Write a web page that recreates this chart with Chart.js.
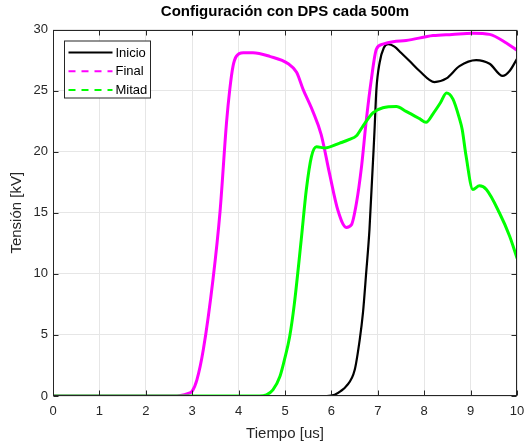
<!DOCTYPE html>
<html>
<head>
<meta charset="utf-8">
<script src="https://cdn.jsdelivr.net/npm/chart.js@4"></script>
<style>
html,body{margin:0;padding:0;background:#fff;}
#wrap{width:527px;height:445px;}
</style>
</head>
<body>
<div id="wrap"><canvas id="c" width="527" height="445"></canvas></div>
<script>
// ---- data ----
const seriesNames = ["Inicio", "Final", "Mitad"];
const xTicks = [0,1,2,3,4,5,6,7,8,9,10];
const yTicks = [0,5,10,15,20,25,30];

const inicioX = [0, 5.9, 6.07, 6.2, 6.32, 6.5, 6.61, 6.68, 6.75, 6.82, 6.93, 6.97, 7.04, 7.13, 7.22, 7.36, 7.5, 7.69, 7.9, 8.22, 8.48, 8.76, 9.12, 9.41, 9.69, 9.84, 10];
const inicioY = [0, 0, 0.1, 0.4, 0.8, 2.1, 4.6, 6.8, 10.1, 13.6, 21.8, 25.1, 27.3, 28.5, 28.8, 28.6, 28.1, 27.4, 26.6, 25.7, 26.0, 27.0, 27.5, 27.2, 26.2, 26.6, 27.6];

const finalX = [0, 2.6, 2.75, 2.9, 3.0, 3.1, 3.24, 3.45, 3.6, 3.74, 3.81, 3.88, 3.95, 4.1, 4.31, 4.67, 5.07, 5.25, 5.39, 5.6, 5.78, 5.96, 6.14, 6.32, 6.43, 6.54, 6.65, 6.75, 6.86, 6.97, 7.11, 7.33, 7.61, 8.19, 8.6, 9.05, 9.41, 9.77, 10];
const finalY = [0, 0, 0.05, 0.2, 0.4, 1.3, 3.8, 9.6, 15.1, 22.4, 25.1, 27.0, 27.8, 28.1, 28.1, 27.8, 27.2, 26.5, 25.1, 23.3, 21.4, 18.2, 15.2, 13.8, 14.0, 15.8, 18.8, 22.5, 25.9, 28.4, 28.8, 29.0, 29.1, 29.5, 29.6, 29.7, 29.6, 28.9, 28.3];

const mitadX = [0, 4.45, 4.6, 4.74, 4.89, 4.99, 5.1, 5.2, 5.35, 5.46, 5.57, 5.68, 5.86, 6.18, 6.39, 6.54, 6.68, 6.9, 7.11, 7.4, 7.61, 7.9, 8.04, 8.19, 8.35, 8.48, 8.62, 8.76, 8.82, 8.9, 9.05, 9.19, 9.34, 9.62, 9.84, 10];
const mitadY = [0, 0, 0.1, 0.5, 1.6, 3.0, 4.85, 7.5, 12.8, 16.9, 19.6, 20.4, 20.3, 20.7, 21.0, 21.3, 22.1, 23.2, 23.6, 23.7, 23.3, 22.7, 22.4, 23.1, 24.0, 24.8, 24.3, 22.7, 21.8, 19.7, 16.9, 17.2, 16.9, 15.0, 13.1, 11.3];

function pts(xs, ys){ return xs.map((x,i)=>({x:x, y:ys[i]})); }

const FONT = "'Liberation Sans', Arial, Helvetica, sans-serif";
const AXC = '#262626';

const legendStyles = [
  {color:'#000000', dash:[]},
  {color:'#ff00ff', dash:[7,6]},
  {color:'#00ff00', dash:[7,6]}
];

const framePlugin = {
  id: 'frame',
  afterDatasetsDraw(chart){
    const ctx = chart.ctx, a = chart.chartArea;
    const xs = chart.scales.x, ys = chart.scales.y;
    ctx.save();
    ctx.strokeStyle = AXC;
    ctx.lineWidth = 1;
    ctx.setLineDash([]);
    const L = Math.round(a.left)+0.5, R = Math.round(a.right)-0.5, T = Math.round(a.top)+0.5, B = Math.round(a.bottom)-0.5;
    ctx.strokeRect(L, T, R-L, B-T);
    const tl = 5;
    ctx.beginPath();
    xTicks.forEach(v=>{
      const px = Math.round(xs.getPixelForValue(v))+0.5;
      ctx.moveTo(px, B); ctx.lineTo(px, B-tl);
      ctx.moveTo(px, T); ctx.lineTo(px, T+tl);
    });
    yTicks.forEach(v=>{
      const py = Math.round(ys.getPixelForValue(v))+0.5;
      ctx.moveTo(L, py); ctx.lineTo(L+tl, py);
      ctx.moveTo(R, py); ctx.lineTo(R-tl, py);
    });
    ctx.stroke();

    // legend box
    const bx = a.left + 11.5, by = a.top + 11.5, bw = 86, bh = 57;
    ctx.fillStyle = '#ffffff';
    ctx.fillRect(bx, by, bw, bh);
    ctx.strokeStyle = AXC;
    ctx.strokeRect(bx, by, bw, bh);
    ctx.font = "13px " + FONT;
    ctx.textBaseline = 'middle';
    ctx.textAlign = 'left';
    chart.data.datasets.forEach((ds, i)=>{
      const yy = by + 11.5 + i*18.7;
      const st = legendStyles[i];
      ctx.beginPath();
      ctx.strokeStyle = st.color;
      ctx.lineWidth = 2;
      ctx.setLineDash(st.dash);
      ctx.moveTo(bx + 4, yy);
      ctx.lineTo(bx + 48, yy);
      ctx.stroke();
      ctx.setLineDash([]);
      ctx.fillStyle = '#000000';
      ctx.fillText(ds.label, bx + 51, yy + 0.5);
    });
    ctx.restore();
  }
};

new Chart(document.getElementById('c'), {
  type: 'line',
  data: {
    datasets: [
      {label: seriesNames[0], data: pts(inicioX, inicioY), borderColor:'#000000', borderWidth:2.2, order:2},
      {label: seriesNames[1], data: pts(finalX, finalY), borderColor:'#ff00ff', borderWidth:3, order:1},
      {label: seriesNames[2], data: pts(mitadX, mitadY), borderColor:'#00ff00', borderWidth:3, order:0}
    ]
  },
  options: {
    responsive: false,
    animation: false,
    devicePixelRatio: 1,
    layout: {padding: {left:0, right:10, top:0, bottom:0}},
    elements: {
      point: {radius:0, hoverRadius:0},
      line: {cubicInterpolationMode:'monotone', fill:false, borderCapStyle:'round', borderJoinStyle:'round'}
    },
    plugins: {
      legend: {display:false},
      tooltip: {enabled:false},
      title: {
        display:true,
        fullSize:false,
        text:'Configuración con DPS cada 500m',
        color:'#000000',
        font:{family:FONT, size:15, weight:'bold', lineHeight:1.2},
        padding:{top:3, bottom:8.5}
      }
    },
    scales: {
      x: {
        type:'linear', min:0, max:10,
        afterFit(s){ s.height = 49; s.paddingLeft = 0; s.paddingRight = 0; },
        afterBuildTicks(s){ s.ticks = xTicks.map(v=>({value:v})); },
        ticks:{color:AXC, font:{family:FONT, size:13}, padding:8, maxRotation:0, autoSkip:false},
        grid:{color:'#e6e6e6', drawTicks:false},
        border:{display:false},
        title:{display:true, text:'Tiempo [us]', color:AXC, font:{family:FONT, size:15}, padding:{top:0, bottom:2}}
      },
      y: {
        type:'linear', min:0, max:30,
        afterFit(s){ s.width = 53; s.paddingTop = 0; s.paddingBottom = 0; },
        afterBuildTicks(s){ s.ticks = yTicks.map(v=>({value:v})); },
        ticks:{color:AXC, font:{family:FONT, size:13}, padding:5},
        grid:{color:'#e6e6e6', drawTicks:false},
        border:{display:false},
        title:{display:true, text:'Tensión [kV]', color:AXC, font:{family:FONT, size:15}, padding:{top:8, bottom:0}}
      }
    }
  },
  plugins:[framePlugin]
});
</script>
</body>
</html>
